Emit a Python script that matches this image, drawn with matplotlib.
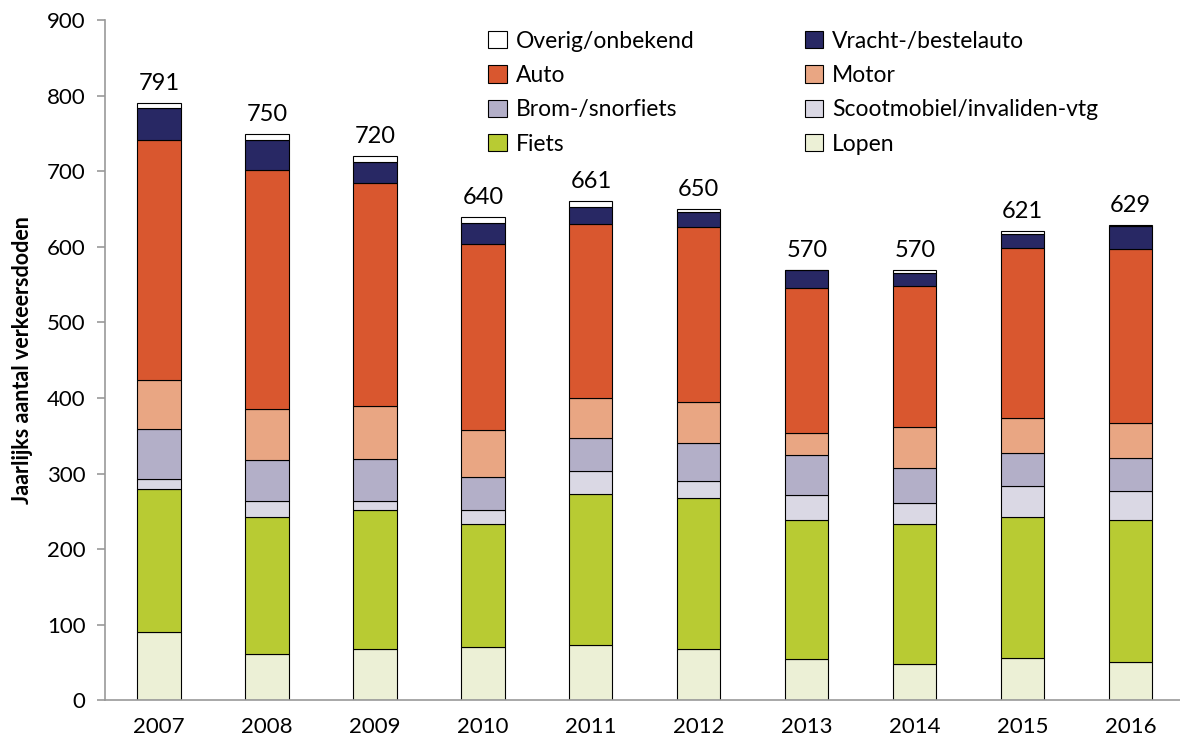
import numpy as np
import matplotlib
matplotlib.use("Agg")
import matplotlib.pyplot as plt

years = ["2007", "2008", "2009", "2010", "2011", "2012", "2013", "2014", "2015", "2016"]
totals = [791, 750, 720, 640, 661, 650, 570, 570, 621, 629]

lopen = [91, 61, 68, 71, 73, 68, 55, 48, 56, 51]
fiets = [188, 181, 184, 162, 200, 200, 184, 185, 186, 188]
scootmobiel = [14, 22, 12, 19, 30, 22, 33, 28, 41, 38]
brom = [66, 54, 55, 44, 44, 51, 52, 46, 44, 44]
motor = [65, 67, 70, 62, 53, 54, 30, 55, 47, 46]
auto = [317, 317, 296, 246, 230, 232, 192, 186, 224, 230]
vracht = [43, 40, 28, 28, 23, 19, 23, 17, 19, 31]
overig = [7, 8, 7, 8, 8, 4, 1, 5, 4, 1]

series = [
	("Lopen", lopen, "#ecf0d6"),
	("Fiets", fiets, "#b8cb33"),
	("Scootmobiel/invaliden-vtg", scootmobiel, "#dad8e4"),
	("Brom-/snorfiets", brom, "#b3afc8"),
	("Motor", motor, "#e9a683"),
	("Auto", auto, "#d9572f"),
	("Vracht-/bestelauto", vracht, "#282864"),
	("Overig/onbekend", overig, "#ffffff"),
]

plt.rcParams["font.family"] = ["Lato", "DejaVu Sans"]

fig = plt.figure(figsize=(11.8, 7.49), dpi=100)
ax = fig.add_axes([0.089, 0.065, 0.915, 0.908])

ind = np.arange(len(years))
bottom = np.zeros(len(years))
bars = {}
for name, vals, color in series:
	bars[name] = ax.bar(ind, vals, 0.4, bottom=bottom, color=color, edgecolor="black", linewidth=0.8, label=name)
	bottom = bottom + np.array(vals)

# totaal boven elke staaf
for i, t in enumerate(totals):
	ax.text(ind[i], bottom[i] + 12, str(t), ha="center", va="bottom", fontsize=17)

ax.set_ylim(0, 900)
ax.set_xlim(-0.5, 9.5)
ax.set_yticks(range(0, 901, 100))
ax.set_xticks(ind)
ax.set_xticklabels(years)
ax.tick_params(axis="y", labelsize=16, color="#999999", length=6, width=1.2, pad=8)
ax.tick_params(axis="x", labelsize=16, length=0, pad=12)
ax.set_ylabel("Jaarlijks aantal verkeersdoden", fontsize=15.5, fontweight="bold", labelpad=10)

for s in ["top", "right"]:
	ax.spines[s].set_visible(False)
ax.spines["left"].set_color("#999999")
ax.spines["bottom"].set_color("#999999")
ax.spines["left"].set_linewidth(1.2)
ax.spines["bottom"].set_linewidth(1.2)

order = ["Overig/onbekend", "Auto", "Brom-/snorfiets", "Fiets",
		 "Vracht-/bestelauto", "Motor", "Scootmobiel/invaliden-vtg", "Lopen"]
ax.legend([bars[n] for n in order], order, ncol=2, loc="upper left",
		  bbox_to_anchor=(0.336, 1.015), frameon=False, fontsize=16.5,
		  handlelength=0.8, handleheight=0.8, handletextpad=0.4,
		  labelspacing=0.58, columnspacing=4.8)

plt.savefig("out.png", dpi=100)
